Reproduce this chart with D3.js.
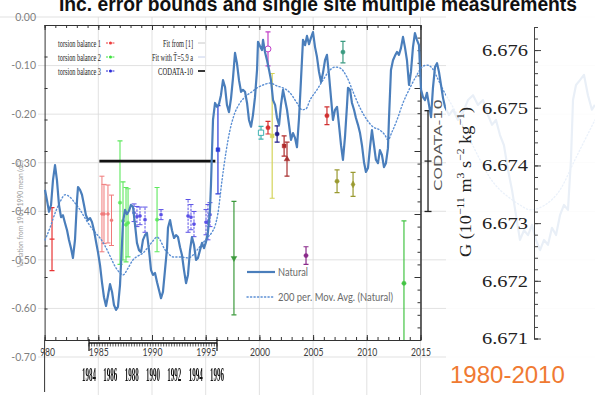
<!DOCTYPE html>
<html>
<head>
<meta charset="utf-8">
<script src="https://cdn.jsdelivr.net/npm/d3@7"></script>
<style>
  html, body { margin: 0; padding: 0; background: #fff; }
  svg { display: block; }
  .flat { filter: grayscale(1); }
</style>
</head>
<body>
<svg id="chart" width="595" height="395"></svg>
<script>
// ---------------- data ----------------
// Temperature anomaly, "Natural" series: [year, deviation from 1961-1990 mean (°C)]
const naturalSeries = [
  [1980.04,-0.356],[1980.22,-0.377],[1980.41,-0.401],[1980.60,-0.387],[1980.78,-0.336],[1980.97,-0.305],
  [1981.15,-0.336],[1981.34,-0.387],[1981.53,-0.412],[1981.71,-0.408],[1981.90,-0.424],[1982.09,-0.439],
  [1982.27,-0.459],[1982.46,-0.476],[1982.64,-0.496],[1982.83,-0.459],[1983.02,-0.377],[1983.11,-0.350],
  [1983.30,-0.356],[1983.48,-0.366],[1983.67,-0.387],[1983.85,-0.408],[1984.04,-0.418],[1984.23,-0.414],
  [1984.41,-0.422],[1984.60,-0.439],[1984.79,-0.463],[1984.97,-0.484],[1985.16,-0.511],[1985.34,-0.546],
  [1985.53,-0.577],[1985.72,-0.595],[1985.90,-0.574],[1986.09,-0.550],[1986.28,-0.566],[1986.46,-0.593],
  [1986.65,-0.603],[1986.83,-0.597],[1987.02,-0.552],[1987.11,-0.511],[1987.21,-0.465],[1987.30,-0.422],
  [1987.49,-0.397],[1987.67,-0.406],[1987.86,-0.399],[1988.04,-0.387],[1988.23,-0.391],[1988.42,-0.428],
  [1988.60,-0.465],[1988.79,-0.480],[1988.98,-0.484],[1989.16,-0.459],[1989.35,-0.449],[1989.53,-0.445],
  [1989.72,-0.480],[1989.91,-0.521],[1990.09,-0.531],[1990.28,-0.527],[1990.47,-0.546],[1990.65,-0.562],
  [1990.84,-0.579],[1991.02,-0.566],[1991.21,-0.521],[1991.40,-0.476],[1991.49,-0.434],[1991.68,-0.418],
  [1991.86,-0.439],[1992.05,-0.455],[1992.24,-0.449],[1992.42,-0.453],[1992.61,-0.474],[1992.79,-0.490],
  [1992.98,-0.521],[1993.17,-0.548],[1993.35,-0.531],[1993.54,-0.480],[1993.72,-0.453],[1993.91,-0.469],
  [1994.10,-0.500],[1994.28,-0.496],[1994.47,-0.480],[1994.66,-0.465],[1994.84,-0.476],[1995.03,-0.463],
  [1995.21,-0.443],[1995.40,-0.397],[1995.49,-0.346],[1995.59,-0.274],[1995.68,-0.212],[1995.87,-0.177],
  [1996.05,-0.185],[1996.24,-0.179],[1996.42,-0.161],[1996.61,-0.130],[1996.80,-0.144],[1996.98,-0.181],
  [1997.17,-0.196],[1997.36,-0.167],[1997.54,-0.126],[1997.73,-0.074],[1997.91,-0.095],[1998.10,-0.130],
  [1998.29,-0.154],[1998.47,-0.150],[1998.66,-0.154],[1998.85,-0.177],[1999.03,-0.212],[1999.22,-0.226],
  [1999.40,-0.202],[1999.59,-0.165],[1999.78,-0.109],[1999.87,-0.051],[2000.06,-0.060],[2000.24,-0.068],
  [2000.34,-0.047],[2000.52,-0.072],[2000.71,-0.089],[2000.90,-0.109],[2001.08,-0.130],[2001.27,-0.171],
  [2001.46,-0.181],[2001.64,-0.208],[2001.83,-0.222],[2002.01,-0.181],[2002.20,-0.150],[2002.39,-0.171],
  [2002.57,-0.191],[2002.76,-0.222],[2002.94,-0.253],[2003.13,-0.239],[2003.32,-0.249],[2003.50,-0.268],
  [2003.69,-0.208],[2003.87,-0.130],[2004.06,-0.047],[2004.25,-0.058],[2004.43,-0.039],[2004.62,-0.056],
  [2004.80,-0.043],[2004.99,-0.031],[2005.18,-0.062],[2005.36,-0.082],[2005.55,-0.113],[2005.74,-0.134],
  [2005.92,-0.115],[2006.11,-0.089],[2006.29,-0.078],[2006.48,-0.119],[2006.67,-0.167],[2006.85,-0.212],
  [2007.04,-0.191],[2007.23,-0.185],[2007.41,-0.222],[2007.60,-0.264],[2007.78,-0.294],[2007.97,-0.247],
  [2008.16,-0.181],[2008.25,-0.146],[2008.44,-0.150],[2008.62,-0.177],[2008.81,-0.191],[2008.99,-0.208],
  [2009.18,-0.222],[2009.37,-0.239],[2009.55,-0.264],[2009.74,-0.299],[2009.92,-0.319],[2010.11,-0.311],
  [2010.30,-0.268],[2010.48,-0.233],[2010.67,-0.264],[2010.85,-0.294],[2011.04,-0.301],[2011.22,-0.274],
  [2011.41,-0.284],[2011.60,-0.309],[2011.78,-0.301],[2011.97,-0.270],[2012.06,-0.212],[2012.25,-0.109],
  [2012.44,-0.089],[2012.62,-0.080],[2012.81,-0.072],[2012.99,-0.078],[2013.18,-0.064],[2013.37,-0.041],
  [2013.55,-0.062],[2013.74,-0.089],[2013.93,-0.140],[2014.11,-0.113],[2014.30,-0.062],[2014.48,-0.033],
  [2014.67,-0.047],[2014.86,-0.058],[2015.05,-0.150],[2015.23,-0.165],[2015.42,-0.171],[2015.60,-0.156],
  [2015.79,-0.181],[2015.98,-0.206],[2016.16,-0.146],[2016.35,-0.103],[2016.54,-0.095],[2016.72,-0.113],
  [2016.91,-0.140],[2017.10,-0.167],[2017.28,-0.185],[2017.65,-0.202],[2018.03,-0.191],[2018.49,-0.212],
  [2018.96,-0.196],[2019.42,-0.171],[2019.89,-0.161],[2020.35,-0.181],[2020.82,-0.171],[2021.28,-0.202],
  [2021.66,-0.222],[2022.03,-0.212],[2022.40,-0.243],[2022.77,-0.264],[2023.15,-0.315],[2023.52,-0.356],
  [2023.89,-0.408],[2024.26,-0.459],[2024.64,-0.439],[2025.01,-0.449],[2025.38,-0.428],[2025.75,-0.459],
  [2026.13,-0.480],[2026.50,-0.459],[2026.87,-0.469],[2027.24,-0.434],[2027.62,-0.449],[2027.99,-0.408],
  [2028.36,-0.387],[2028.73,-0.397],[2029.01,-0.294],[2029.20,-0.171],[2029.48,-0.140],[2029.85,-0.130],
  [2030.22,-0.119],[2030.59,-0.161],[2030.96,-0.191],[2031.24,-0.181]
];

// 200-period moving average of the Natural series
const movingAverage = [
  [1980.04,-0.459],[1980.50,-0.434],[1980.97,-0.404],[1981.43,-0.381],[1981.90,-0.366],[1982.37,-0.371],
  [1982.83,-0.383],[1983.30,-0.397],[1983.76,-0.414],[1984.23,-0.430],[1984.69,-0.443],[1985.16,-0.455],
  [1985.62,-0.471],[1986.09,-0.492],[1986.55,-0.513],[1987.02,-0.527],[1987.30,-0.531],[1987.77,-0.517],
  [1988.23,-0.500],[1988.70,-0.492],[1989.16,-0.486],[1989.63,-0.474],[1990.09,-0.461],[1990.47,-0.453],
  [1990.75,-0.459],[1991.12,-0.476],[1991.49,-0.486],[1991.96,-0.494],[1992.61,-0.494],[1993.35,-0.496],
  [1993.82,-0.490],[1994.19,-0.480],[1994.75,-0.465],[1995.21,-0.453],[1995.59,-0.443],[1995.87,-0.430],
  [1996.14,-0.404],[1996.52,-0.336],[1996.89,-0.278],[1997.26,-0.233],[1997.64,-0.202],[1998.19,-0.177],
  [1998.85,-0.161],[1999.31,-0.154],[1999.78,-0.146],[2000.34,-0.140],[2000.99,-0.136],[2001.64,-0.142],
  [2002.20,-0.146],[2002.85,-0.156],[2003.50,-0.177],[2003.97,-0.191],[2004.34,-0.189],[2004.71,-0.171],
  [2005.36,-0.150],[2005.92,-0.130],[2006.57,-0.109],[2007.04,-0.103],[2007.50,-0.105],[2008.16,-0.124],
  [2008.72,-0.154],[2009.37,-0.187],[2010.02,-0.212],[2010.58,-0.226],[2011.22,-0.233],[2011.69,-0.243],
  [2011.97,-0.253],[2012.34,-0.237],[2012.81,-0.212],[2013.37,-0.177],[2014.02,-0.146],[2014.67,-0.119],
  [2015.14,-0.103],[2015.60,-0.099],[2016.07,-0.105],[2016.54,-0.124],[2017.10,-0.150],[2017.75,-0.175],
  [2018.68,-0.212],[2019.61,-0.253],[2020.54,-0.294],[2021.47,-0.331],[2022.40,-0.356],[2023.33,-0.373],
  [2024.26,-0.387],[2025.19,-0.397],[2026.59,-0.387],[2027.99,-0.356],[2029.38,-0.294],[2031.24,-0.212]
];

const anomalyTicks = [0, -0.1, -0.2, -0.3, -0.4, -0.5, -0.6, -0.7];
const yearTicks = [1980, 1985, 1990, 1995, 2000, 2005, 2010, 2015];
const rulerYears = [1984, 1986, 1988, 1990, 1992, 1994, 1996];
const gTicks = [6.671, 6.672, 6.673, 6.674, 6.675, 6.676];

// G measurements: [year, G (1e-11 m^3 s^-2 kg^-1), uncertainty]
const earlyMeasurement = [[1980.69, 6.6726, 0.0005]];
const torsionBalance1 = [
  [1985.34, 6.6730, 0.0006], [1985.53, 6.6730, 0.00047], [1985.90, 6.6730, 0.00046], [1986.23, 6.6729, 0.0004]
];
const torsionBalance2 = [
  [1987.02, 6.67318, 0.00098], [1987.30, 6.67289, 0.00062], [1987.58, 6.67283, 0.00059],
  [1987.77, 6.67286, 0.00054], [1990.47, 6.67291, 0.00051]
];
const torsionBalance3 = [
  [1988.33, 6.67302, 0.00014], [1988.60, 6.67296, 0.00016], [1988.88, 6.67297, 0.00014],
  [1989.35, 6.67291, 0.0002], [1990.84, 6.67299, 0.00008], [1993.36, 6.67297, 0.00026],
  [1993.63, 6.67295, 0.0002], [1993.91, 6.67284, 0.0002], [1995.03, 6.67287, 0.0002],
  [1995.21, 6.67287, 0.00028], [1995.40, 6.67299, 0.00019]
];
const laterMeasurements = [
  [1996.14, 6.67402, 0.0007], [1997.63, 6.6723, 0.0009], [2000.15, 6.67429, 0.0001],
  [2000.80, 6.67437, 0.0001], [2000.80, 6.67562, 0.00027], [2001.19, 6.67424, 0.00099],
  [2001.65, 6.67427, 0.00013], [2002.30, 6.67408, 0.00016], [2002.57, 6.67387, 0.00027],
  [2004.34, 6.67234, 0.00014], [2006.29, 6.67456, 0.00014], [2007.23, 6.67352, 0.00018],
  [2007.78, 6.67557, 0.00017], [2008.72, 6.67347, 0.00019], [2013.46, 6.6719, 0.00099]
];
const codata10 = { value: 6.67384, err: 0.0008, year: 2015.7, span: [1985.1, 1995.9] };

// ---------------- styles ----------------
const laterStyles = [
  { color: "#2a3ad8", marker: "square" },
  { color: "#3c9a3c", marker: "triangle-down" },
  { color: "#3fb2b2", marker: "open-square" },
  { color: "#d83030", marker: "circle" },
  { color: "#c040c8", marker: "open-circle" },
  { color: "#d4d45a", marker: "square" },
  { color: "#20208a", marker: "circle" },
  { color: "#b02a2a", marker: "square" },
  { color: "#a83030", marker: "triangle" },
  { color: "#8a2a8a", marker: "circle" },
  { color: "#d03030", marker: "circle" },
  { color: "#9a9a30", marker: "circle" },
  { color: "#3a9a80", marker: "circle" },
  { color: "#9a9a30", marker: "diamond" },
  { color: "#44c444", marker: "circle" }
];
const lineBlue = "#4a7ebb";
const serif = "'Liberation Serif', 'DejaVu Serif', serif";
const sans = "Lato, 'Liberation Sans', sans-serif";

// ---------------- scales ----------------
const W = 595, H = 395;
const svg = d3.select("#chart");
const x = d3.scaleLinear().domain([1980, 2015]).range([44.6, 420.5]);
const yT = d3.scaleLinear().domain([0, -0.7]).range([17, 357]);
const yG = d3.scaleLinear().domain([6.671, 6.676]).range([340, 25]);
const yGAxis = d3.scaleLinear().domain([6.671, 6.6764]).range([338.5, 27]);
const xRuler = d3.scaleLinear().domain([1984, 1996]).range([89, 217]);

svg.append("rect").attr("width", W).attr("height", H).attr("fill", "#fff");

// ---------------- spreadsheet grid ----------------
const grid = svg.append("g").attr("stroke", "#d9d9d9").attr("stroke-width", 0.8);
grid.selectAll("line.h").data(anomalyTicks).join("line").attr("class", "h")
  .attr("x1", d => d === 0 ? 0 : 38).attr("x2", W)
  .attr("y1", d => yT(d)).attr("y2", d => yT(d));
grid.selectAll("line.v").data(yearTicks.slice(1)).join("line").attr("class", "v")
  .attr("x1", d => x(d)).attr("x2", d => x(d))
  .attr("y1", yT(0)).attr("y2", H);

// anomaly labels
svg.append("g").attr("transform", "translate(38,0)")
  .call(d3.axisLeft(yT).tickValues(anomalyTicks).tickSize(0).tickPadding(2).tickFormat(d => d.toFixed(2)))
  .call(g => g.select(".domain").remove())
  .call(g => g.selectAll("text").attr("fill", "#7f7f7f").attr("font-size", 10.5).attr("font-family", sans));

svg.append("text")
  .attr("transform", `translate(23,${yT(-0.405)}) rotate(-90)`)
  .attr("text-anchor", "middle").attr("font-size", 7).attr("font-family", sans).attr("fill", "#9a9a9a")
  .attr("textLength", 107).attr("lengthAdjust", "spacingAndGlyphs")
  .text("Variation from 1961-1990 mean (oC)");

// year labels (clipped at the plot's left edge)
svg.append("clipPath").attr("id", "yearClip").append("rect")
  .attr("x", 40.5).attr("y", 0).attr("width", 400).attr("height", 30);
svg.append("g").attr("clip-path", "url(#yearClip)").attr("transform", "translate(0,340)")
  .call(d3.axisBottom(x).tickValues(yearTicks).tickSize(0).tickPadding(7).tickFormat(d3.format("d")))
  .call(g => g.select(".domain").remove())
  .call(g => g.selectAll("text").attr("fill", "#404040").attr("font-size", 12).attr("font-family", sans)
    .attr("textLength", 20).attr("lengthAdjust", "spacingAndGlyphs"));

// ---------------- measurement frame ----------------
const frameColor = "#333";
const allYears = d3.range(1980, 2016);
function styleAxis(g) { g.selectAll("path,line").attr("stroke", frameColor); }
svg.append("g").attr("transform", `translate(0,${yG(6.676)})`)
  .call(d3.axisTop(x).tickValues(allYears).tickSizeInner(-3).tickSizeOuter(0).tickFormat("")).call(styleAxis);
svg.append("g").attr("transform", `translate(0,${yG(6.676)})`)
  .call(d3.axisTop(x).tickValues(yearTicks).tickSizeInner(-5).tickSizeOuter(0).tickFormat("")).call(styleAxis);
svg.append("g").attr("transform", `translate(0,${yG(6.671)})`)
  .call(d3.axisBottom(x).tickValues(allYears).tickSizeInner(-3).tickSizeOuter(0).tickFormat("")).call(styleAxis);
svg.append("g").attr("transform", `translate(0,${yG(6.671)})`)
  .call(d3.axisBottom(x).tickValues(yearTicks).tickSizeInner(-5).tickSizeOuter(0).tickFormat("")).call(styleAxis);

const gMinor = d3.range(0, 26).map(i => 6.671 + i * 0.0002);
const gHalf = d3.range(0, 11).map(i => 6.671 + i * 0.0005);
svg.append("g").attr("transform", `translate(${x(1980)},0)`)
  .call(d3.axisLeft(yG).tickValues(gHalf).tickSizeInner(-3).tickSizeOuter(0).tickFormat("")).call(styleAxis);
svg.append("g").attr("transform", `translate(${x(2015)},0)`)
  .call(d3.axisRight(yG).tickValues(gMinor).tickSizeInner(-3).tickSizeOuter(0).tickFormat("")).call(styleAxis);
svg.append("g").attr("transform", `translate(${x(2015)},0)`)
  .call(d3.axisRight(yG).tickValues(gTicks).tickSizeInner(-6).tickSizeOuter(0).tickFormat("")).call(styleAxis);
svg.append("line").attr("x1", x(1980)).attr("x2", x(1980)).attr("y1", yG(6.671)).attr("y2", 392)
  .attr("stroke", frameColor);

// year ruler below the frame
const ruler = svg.append("g").attr("stroke", "#111");
ruler.append("line").attr("x1", xRuler(1984)).attr("x2", xRuler(1996)).attr("y1", 343).attr("y2", 343).attr("stroke-width", 1.6);
ruler.selectAll("line.t").data(d3.range(0, 49).map(i => 1984 + i * 0.25)).join("line").attr("class", "t")
  .attr("x1", d => xRuler(d)).attr("x2", d => xRuler(d)).attr("y1", 343).attr("y2", 346.5).attr("stroke-width", 0.7);
ruler.selectAll("line.e").data([1984, 1996]).join("line").attr("class", "e")
  .attr("x1", d => xRuler(d)).attr("x2", d => xRuler(d)).attr("y1", 339).attr("y2", 351).attr("stroke-width", 1.2);
svg.append("g").attr("class", "flat").selectAll("text").data(rulerYears).join("text")
  .attr("transform", d => `translate(${xRuler(d)},381) scale(0.37,1)`).attr("text-anchor", "middle")
  .attr("font-family", serif).attr("font-weight", "bold").attr("font-size", 19).attr("fill", "#111")
  .text(d => d);

// ---------------- legend of the measurement frame ----------------
const legLeft = [
  { label: "torsion balance 1", color: "#ee3b3b" },
  { label: "torsion balance 2", color: "#3ee23e" },
  { label: "torsion balance 3", color: "#2b2bd8" }
];
const legRight = [
  { label: "Fit from [1]", color: "#c8c8c8", w: 1, len: 30 },
  { label: "Fit with T\u0304=5.9 a", color: "#c6d0ec", w: 1, len: 41 },
  { label: "CODATA-10", color: "#222", w: 1.8, len: 35 }
];
const legRowY = [43, 57, 71];
const legL = svg.append("g");
legL.selectAll("text").data(legLeft).join("text")
  .attr("x", 58).attr("y", (d, i) => legRowY[i] + 3.5)
  .attr("font-family", serif).attr("font-size", 10).attr("fill", "#222")
  .attr("textLength", 43).attr("lengthAdjust", "spacingAndGlyphs").text(d => d.label);
legL.selectAll("line").data(legLeft).join("line")
  .attr("x1", 106).attr("x2", 115).attr("y1", (d, i) => legRowY[i]).attr("y2", (d, i) => legRowY[i])
  .attr("stroke", d => d.color).attr("stroke-width", 1.2).attr("stroke-dasharray", "2,1.2");
legL.selectAll("circle").data(legLeft).join("circle")
  .attr("cx", 110.5).attr("cy", (d, i) => legRowY[i]).attr("r", 1.5).attr("fill", d => d.color);
const legR = svg.append("g");
legR.selectAll("text").data(legRight).join("text")
  .attr("x", 193).attr("y", (d, i) => legRowY[i] + 3.5).attr("text-anchor", "end")
  .attr("font-family", serif).attr("font-size", 10).attr("fill", "#222")
  .attr("textLength", d => d.len).attr("lengthAdjust", "spacingAndGlyphs").text(d => d.label);
legR.selectAll("line").data(legRight).join("line")
  .attr("x1", 198).attr("x2", 205).attr("y1", (d, i) => legRowY[i]).attr("y2", (d, i) => legRowY[i])
  .attr("stroke", d => d.color).attr("stroke-width", d => d.w);

// ---------------- error bars ----------------
svg.append("clipPath").attr("id", "frameClip").append("rect")
  .attr("x", x(1980)).attr("y", 0).attr("width", x(2015) - x(1980)).attr("height", yG(6.671));
const bars = svg.append("g").attr("clip-path", "url(#frameClip)");
const symbolTypes = {
  circle: d3.symbolCircle, "open-circle": d3.symbolCircle, square: d3.symbolSquare,
  "open-square": d3.symbolSquare, triangle: d3.symbolTriangle, "triangle-down": d3.symbolTriangle,
  diamond: d3.symbolDiamond
};
function drawBars(rows, style) {
  const g = bars.append("g").attr("stroke", style.color).attr("stroke-width", style.width || 1.2).attr("fill", "none");
  const b = g.selectAll("g").data(rows).join("g").attr("transform", d => `translate(${x(d[0])},0)`);
  b.append("line").attr("y1", d => yG(d[1] - d[2])).attr("y2", d => yG(d[1] + d[2]))
    .attr("stroke-dasharray", style.dash || null);
  [-1, 1].forEach(s => {
    b.append("line").attr("x1", -2.5).attr("x2", 2.5)
      .attr("y1", d => yG(d[1] + s * d[2])).attr("y2", d => yG(d[1] + s * d[2]));
  });
  if (style.marker === "dash") {
    b.append("line").attr("x1", -2.5).attr("x2", 2.5).attr("y1", d => yG(d[1])).attr("y2", d => yG(d[1]));
  } else {
    const open = style.marker.startsWith("open");
    b.append("path")
      .attr("transform", d => `translate(0,${yG(d[1])})` + (style.marker === "triangle-down" ? " rotate(180)" : ""))
      .attr("d", d3.symbol().type(symbolTypes[style.marker]).size(open ? 28 : (style.size || 14)))
      .attr("fill", open ? "#fff" : style.color).attr("stroke-width", open ? 1 : 0.5);
  }
}
drawBars(earlyMeasurement, { color: "#e83434", marker: "dash" });
drawBars(torsionBalance1, { color: "#f07a7a", marker: "circle", width: 1, size: 7 });
drawBars(torsionBalance2, { color: "#5ee85e", marker: "circle", width: 1.1, size: 9 });
drawBars(torsionBalance3, { color: "#5a50e6", marker: "circle", width: 1, dash: "2.5,1.2", size: 8 });
laterMeasurements.forEach((d, i) => drawBars([d], laterStyles[i]));

// CODATA-10 reference value across the torsion-balance years
svg.append("line")
  .attr("x1", x(codata10.span[0])).attr("x2", x(codata10.span[1]))
  .attr("y1", yG(codata10.value)).attr("y2", yG(codata10.value))
  .attr("stroke", "#111").attr("stroke-width", 2.8);

// CODATA-10 bar beside the frame
const cod = svg.append("g").attr("stroke", "#222").attr("stroke-width", 1.3)
  .attr("transform", `translate(${x(codata10.year)},0)`);
cod.append("line").attr("y1", yG(codata10.value - codata10.err)).attr("y2", yG(codata10.value + codata10.err));
[-1, 0, 1].forEach(s => {
  cod.append("line").attr("x1", -3.5).attr("x2", 3.5)
    .attr("y1", yG(codata10.value + s * codata10.err)).attr("y2", yG(codata10.value + s * codata10.err));
});
svg.append("text")
  .attr("transform", `translate(442,${yG(codata10.value) - 16}) rotate(-90)`)
  .attr("text-anchor", "middle").attr("font-family", "'DejaVu Sans', sans-serif").attr("font-size", 11)
  .attr("fill", "#555").attr("textLength", 92).attr("lengthAdjust", "spacingAndGlyphs")
  .text("CODATA-10");

// ---------------- temperature lines ----------------
svg.append("path").datum(movingAverage)
  .attr("d", d3.line().x(d => x(d[0])).y(d => yT(d[1])).curve(d3.curveMonotoneX))
  .attr("fill", "none").attr("stroke", "#5b8fd4").attr("stroke-width", 1.4)
  .attr("stroke-dasharray", "1.2,2.3").attr("stroke-linecap", "round");
svg.append("path").datum(naturalSeries)
  .attr("d", d3.line().x(d => x(d[0])).y(d => yT(d[1])))
  .attr("fill", "none").attr("stroke", lineBlue).attr("stroke-width", 2.2).attr("stroke-linejoin", "round");

// spreadsheet legend
const leg2 = svg.append("g").attr("font-family", sans).attr("font-size", 11).attr("fill", "#6a6a6a");
leg2.append("line").attr("x1", 247).attr("x2", 275).attr("y1", 272).attr("y2", 272)
  .attr("stroke", lineBlue).attr("stroke-width", 2.2);
leg2.append("text").attr("x", 278).attr("y", 276).attr("textLength", 30).attr("lengthAdjust", "spacingAndGlyphs").text("Natural");
leg2.append("line").attr("x1", 247).attr("x2", 274).attr("y1", 297).attr("y2", 297)
  .attr("stroke", "#5b8fd4").attr("stroke-width", 1.4).attr("stroke-dasharray", "1.2,2.3").attr("stroke-linecap", "round");
leg2.append("text").attr("x", 278).attr("y", 301).attr("textLength", 115).attr("lengthAdjust", "spacingAndGlyphs")
  .text("200 per. Mov. Avg. (Natural)");

// faded right-hand panel
svg.append("rect").attr("x", 446).attr("y", 0).attr("width", W - 446).attr("height", H)
  .attr("fill", "#fff").attr("opacity", 0.88);

// ---------------- G axis ----------------
const gAxis = svg.append("g").attr("transform", "translate(534,0)");
gAxis.call(d3.axisLeft(yGAxis).tickValues(gMinor.concat([6.6762, 6.6764])).tickSizeInner(-4).tickSizeOuter(-4).tickFormat(""));
gAxis.append("g").call(d3.axisLeft(yGAxis).tickValues(gTicks).tickSizeInner(-7).tickSizeOuter(0).tickPadding(6)
  .tickFormat(d3.format(".3f")))
  .call(g => g.select(".domain").remove());
gAxis.selectAll("path,line").attr("stroke", "#444");
gAxis.selectAll("text").attr("font-family", serif).attr("font-size", 17).attr("fill", "#222")
  .attr("textLength", 46).attr("lengthAdjust", "spacingAndGlyphs");

const gLabel = svg.append("text")
  .attr("transform", "translate(471,182) rotate(-90)")
  .attr("text-anchor", "middle").attr("font-family", serif).attr("font-size", 17).attr("fill", "#222")
  .attr("textLength", 150).attr("lengthAdjust", "spacingAndGlyphs");
gLabel.append("tspan").text("G  (10");
gLabel.append("tspan").attr("font-size", 11).attr("dy", -7).text("\u221211");
gLabel.append("tspan").attr("dy", 7).text(" m");
gLabel.append("tspan").attr("font-size", 11).attr("dy", -7).text("3");
gLabel.append("tspan").attr("dy", 7).text(" s");
gLabel.append("tspan").attr("font-size", 11).attr("dy", -7).text("\u22122");
gLabel.append("tspan").attr("dy", 7).text(" kg");
gLabel.append("tspan").attr("font-size", 11).attr("dy", -7).text("\u22121");
gLabel.append("tspan").attr("dy", 7).text(")");

// period note
svg.append("text").attr("x", 450).attr("y", 383)
  .attr("font-family", "'Liberation Sans', Arial, sans-serif").attr("font-size", 24).attr("fill", "#f07a32")
  .text("1980-2010");

// heading (runs off the top edge)
svg.append("text").attr("x", 59).attr("y", 11)
  .attr("font-family", "'Liberation Sans', Arial, sans-serif").attr("font-weight", "bold").attr("font-size", 20)
  .attr("fill", "#111").attr("textLength", 518).attr("lengthAdjust", "spacingAndGlyphs")
  .text("Inc. error bounds and single site multiple measurements");
</script>
</body>
</html>
